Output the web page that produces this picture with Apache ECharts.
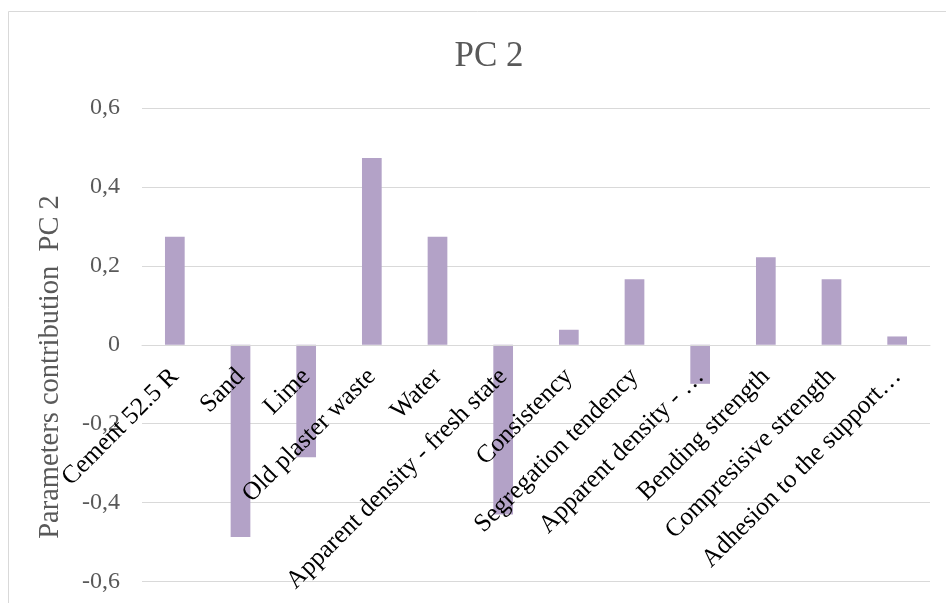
<!DOCTYPE html>
<html>
<head>
<meta charset="utf-8">
<title>PC 2</title>
<script src="https://cdn.jsdelivr.net/npm/echarts@6/dist/echarts.min.js"></script>
<style>
  html, body { margin: 0; padding: 0; background: #ffffff; }
  #chart { width: 946px; height: 603px; }
</style>
</head>
<body>
<div id="chart"></div>
<script>
// Parameters and their loading on the second principal component
const categories = [
  'Cement 52.5 R',
  'Sand',
  'Lime',
  'Old plaster waste',
  'Water',
  'Apparent density - fresh state',
  'Consistency',
  'Segregation tendency',
  'Apparent density - …',
  'Bending strength',
  'Compresisive strength',
  'Adhesion to the support…'
];
const contributions = [0.274, -0.487, -0.285, 0.473, 0.274, -0.43, 0.038, 0.166, -0.099, 0.222, 0.166, 0.021];

const titleText = 'PC 2';
const yAxisTitle = 'Parameters contribution  PC 2';
const yMin = -0.6;
const yMax = 0.6;
const yStep = 0.2;

const serif = '"Liberation Serif", "DejaVu Serif", serif';

// Decimal comma, as in the original locale
function commaDecimal(v) {
  if (Math.abs(v) < 1e-9) return '0';
  return v.toFixed(1).replace('.', ',');
}

const W = 946, H = 603;
const gridBox = { left: 142, right: 16, top: 108, bottom: 21.5 };
// Lift the category axis from the bottom edge up to the value 0
const plotHeight = H - gridBox.top - gridBox.bottom;
const zeroLift = -plotHeight * (0 - yMin) / (yMax - yMin);

const chart = echarts.init(document.getElementById('chart'), null, { renderer: 'canvas' });

chart.setOption({
  backgroundColor: '#ffffff',
  animation: false,
  title: {
    text: titleText,
    left: 484,
    top: 34,
    textAlign: 'center',
    textStyle: { fontFamily: serif, fontSize: 35, fontWeight: 'normal', color: '#595959' }
  },
  graphic: [
    {
      // outer chart frame
      type: 'rect',
      z: -1,
      shape: { x: 8.5, y: 11.5, width: 1000, height: 700 },
      style: { fill: 'none', stroke: '#d9d9d9', lineWidth: 1 }
    },
    {
      type: 'text',
      x: 51,
      y: 367,
      rotation: Math.PI / 2,
      style: {
        text: yAxisTitle,
        font: '28.5px ' + serif,
        fill: '#595959',
        align: 'center',
        verticalAlign: 'middle'
      }
    }
  ],
  grid: Object.assign({ containLabel: false, outerBoundsMode: 'none' }, gridBox),
  xAxis: {
    type: 'category',
    data: categories,
    z: 5,
    offset: zeroLift,
    axisLine: { onZero: false, lineStyle: { color: '#d9d9d9', width: 1 } },
    axisTick: { show: false },
    axisLabel: {
      interval: 0,
      rotate: 45,
      margin: 28,
      hideOverlap: false,
      fontFamily: serif,
      fontSize: 25.5,
      color: '#000000'
    },
    splitLine: { show: false }
  },
  yAxis: {
    type: 'value',
    min: yMin,
    max: yMax,
    interval: yStep,
    axisLine: { show: false },
    axisTick: { show: false },
    axisLabel: {
      margin: 22,
      fontFamily: serif,
      fontSize: 24,
      color: '#595959',
      formatter: commaDecimal
    },
    splitLine: { lineStyle: { color: '#d9d9d9', width: 1 } }
  },
  series: [
    {
      type: 'bar',
      data: contributions,
      barWidth: '30%',
      z: 2,
      itemStyle: { color: '#b3a2c7' }
    }
  ]
});
</script>
</body>
</html>
